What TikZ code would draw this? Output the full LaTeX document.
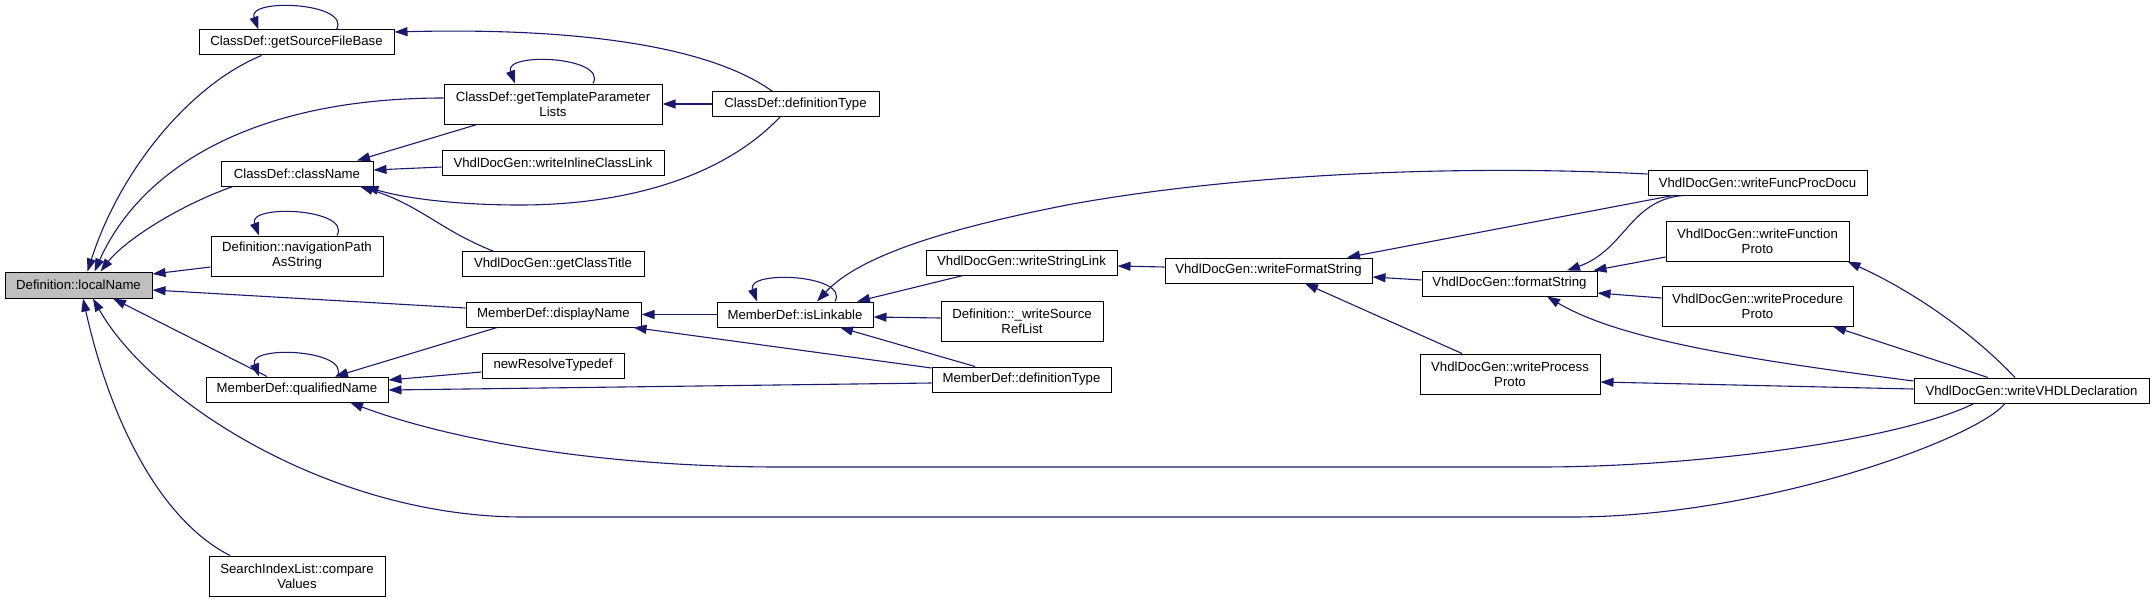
\documentclass[tikz,border=0pt]{standalone}
\usepackage{fontspec}
\setmainfont{Liberation Sans}
\usepackage{tikz}
\usetikzlibrary{arrows.meta}

\definecolor{edgeblue}{RGB}{25,25,112}
\definecolor{focusgray}{RGB}{191,191,191}

\begin{document}
\begin{tikzpicture}[
    x=1pt, y=-1pt,
    >={Triangle[length=13pt,width=9pt]},
    fn/.style={draw, line width=1pt, fill=white, minimum height=25pt, inner sep=0pt, align=center, font=\fontsize{13.2}{15}\selectfont},
    fn2/.style={fn, minimum height=40pt},
    call/.style={->, draw=edgeblue, line width=1.1pt}
]
    \useasboundingbox (0,0) rectangle (2155,602);

    % column 1
    \node[fn, fill=focusgray, minimum width=147, minimum height=26] (ln) at (78.5,285) {Definition::localName};
    % column 2
    \node[fn, minimum width=195] (gsfb) at (296.5,42.5) {ClassDef::getSourceFileBase};
    \node[fn, minimum width=152] (cn) at (297,173.5) {ClassDef::className};
    \node[fn2, minimum width=172] (nav) at (297,256) {Definition::navigationPath\\AsString};
    \node[fn, minimum width=182] (qn) at (297,389.5) {MemberDef::qualifiedName};
    \node[fn2, minimum width=176] (sil) at (297,576) {SearchIndexList::compare\\Values};
    % column 3
    \node[fn2, minimum width=218] (tpl) at (553,104) {ClassDef::getTemplateParameter\\Lists};
    \node[fn, minimum width=222] (wicl) at (553,162.5) {VhdlDocGen::writeInlineClassLink};
    \node[fn, minimum width=182] (gct) at (553,264) {VhdlDocGen::getClassTitle};
    \node[fn, minimum width=175] (dn) at (553.5,314.5) {MemberDef::displayName};
    \node[fn, minimum width=142] (nrt) at (553,365.5) {newResolveTypedef};
    % column 4
    \node[fn, minimum width=167] (cdt) at (795.5,104) {ClassDef::definitionType};
    \node[fn, minimum width=156] (il) at (795,314.5) {MemberDef::isLinkable};
    % column 5
    \node[fn, minimum width=191] (wsl) at (1021.5,262.5) {VhdlDocGen::writeStringLink};
    \node[fn2, minimum width=162] (wsrl) at (1022,321) {Definition::\_writeSource\\RefList};
    \node[fn, minimum width=179] (mdt) at (1021.5,379.5) {MemberDef::definitionType};
    % column 6
    \node[fn, minimum width=207] (wfs) at (1268.5,270.5) {VhdlDocGen::writeFormatString};
    % column 7
    \node[fn, minimum width=175] (fs) at (1509.5,283.5) {VhdlDocGen::formatString};
    \node[fn2, minimum width=180] (wprp) at (1510,374) {VhdlDocGen::writeProcess\\Proto};
    % column 8
    \node[fn, minimum width=219] (wfpd) at (1757.5,182.5) {VhdlDocGen::writeFuncProcDocu};
    \node[fn2, minimum width=183] (wfp) at (1757.5,241) {VhdlDocGen::writeFunction\\Proto};
    \node[fn2, minimum width=191] (wpp) at (1757.5,306) {VhdlDocGen::writeProcedure\\Proto};
    % column 9
    \node[fn, minimum width=235] (wvd) at (2031.5,390.5) {VhdlDocGen::writeVHDLDeclaration};

    % self calls
    \foreach \n in {gsfb,tpl,nav,qn,il}
        \draw[call] ([xshift=40]\n.north) .. controls +(15,-27) and +(-12,-32) .. ([xshift=-38]\n.north);

    % into Definition::localName
    \draw[call] ([xshift=-35]gsfb.south) .. controls (190,85) and (120,170) .. ([xshift=9]ln.north);
    \draw[call] ([yshift=6]tpl.west) .. controls (250,98) and (140,170) .. ([xshift=16]ln.north);
    \draw[call] ([xshift=-64]cn.south) .. controls (180,205) and (125,240) .. ([xshift=22]ln.north);
    \draw[call] ([yshift=-11]nav.west) -- ([yshift=11]ln.east);
    \draw[call] ([yshift=6.5]dn.west) -- ([yshift=-5]ln.east);
    \draw[call] ([xshift=-30]qn.north) -- ([xshift=34.5]ln.south);
    \draw[call] ([xshift=-67]sil.north) .. controls (160,520) and (110,420) .. ([xshift=4.5]ln.south);
    \draw[call] ([xshift=-26.5]wvd.south) .. controls (1975,440) and (1760,517) .. (1572,517) -- (523,517) .. controls (330,517) and (150,400) .. ([xshift=14.5]ln.south);

    % into ClassDef nodes
    \draw[call] ([xshift=-23.5]cdt.north) .. controls (700,40) and (550,28) .. ([yshift=10.5]gsfb.east);
    \draw[call] (cdt.west) -- (tpl.east);
    \draw[call] ([xshift=-76]tpl.south) -- ([xshift=60]cn.north);
    \draw[call] ([yshift=-4.5]wicl.west) -- ([yshift=3.5]cn.east);
    \draw[call] ([xshift=-15.5]cdt.south) .. controls (720,180) and (620,205) .. (520,205) .. controls (450,205) and (400,197) .. ([xshift=-8]cn.south east);
    \draw[call] ([xshift=-60]gct.north) .. controls (440,230) and (420,205) .. ([xshift=63]cn.south);

    % into MemberDef::qualifiedName
    \draw[call] ([xshift=-56.5]dn.south) -- ([xshift=38]qn.north);
    \draw[call] ([yshift=-6.5]nrt.west) -- ([yshift=9.5]qn.east);
    \draw[call] ([yshift=-3.5]mdt.west) -- ([yshift=-0.5]qn.east);
    \draw[call] ([xshift=-57.5]wvd.south) .. controls (1900,440) and (1700,467) .. (1539,467) -- (780,467) .. controls (600,467) and (450,440) .. ([xshift=53]qn.south);

    % into displayName / isLinkable
    \draw[call] (il.west) -- (dn.east);
    \draw[call] ([yshift=11.5]mdt.west) -- ([xshift=-8]dn.south east);
    \draw[call] ([xshift=-46.5]mdt.north) -- ([xshift=45]il.south);
    \draw[call] ([xshift=-58.5]wsl.south) -- ([xshift=62]il.north);
    \draw[call] ([yshift=3]wsrl.west) -- ([yshift=-2.5]il.east);
    \draw[call] ([yshift=8.5]wfpd.west) .. controls (1450,164) and (1230,175) .. (1067,205) .. controls (950,228) and (860,255) .. ([xshift=22]il.north);

    % VhdlDocGen chain
    \draw[call] ([yshift=3.5]wfs.west) -- ([yshift=-3.5]wsl.east);
    \draw[call] ([xshift=-84.5]wfpd.south) -- ([xshift=78.5]wfs.north);
    \draw[call] ([yshift=3.5]fs.west) -- ([yshift=-6.5]wfs.east);
    \draw[call] ([xshift=-48]wprp.north) -- ([xshift=36.5]wfs.south);
    \draw[call] ([xshift=-74.5]wfpd.south) .. controls (1630,200) and (1625,250) .. ([xshift=57.5]fs.north);
    \draw[call] ([yshift=-16]wfp.west) -- ([xshift=-4]fs.north east);
    \draw[call] ([yshift=8]wpp.west) -- ([yshift=-9.5]fs.east);
    \draw[call] ([yshift=9.5]wvd.west) .. controls (1750,360) and (1620,340) .. ([xshift=37.5]fs.south);
    \draw[call] ([xshift=-16.5]wvd.north) .. controls (1970,330) and (1910,290) .. ([xshift=-2]wfp.south east);
    \draw[call] ([xshift=-43.5]wvd.north) -- ([xshift=75.5]wpp.south);
    \draw[call] ([yshift=1.5]wvd.west) -- ([yshift=-8]wprp.east);
\end{tikzpicture}
\end{document}
